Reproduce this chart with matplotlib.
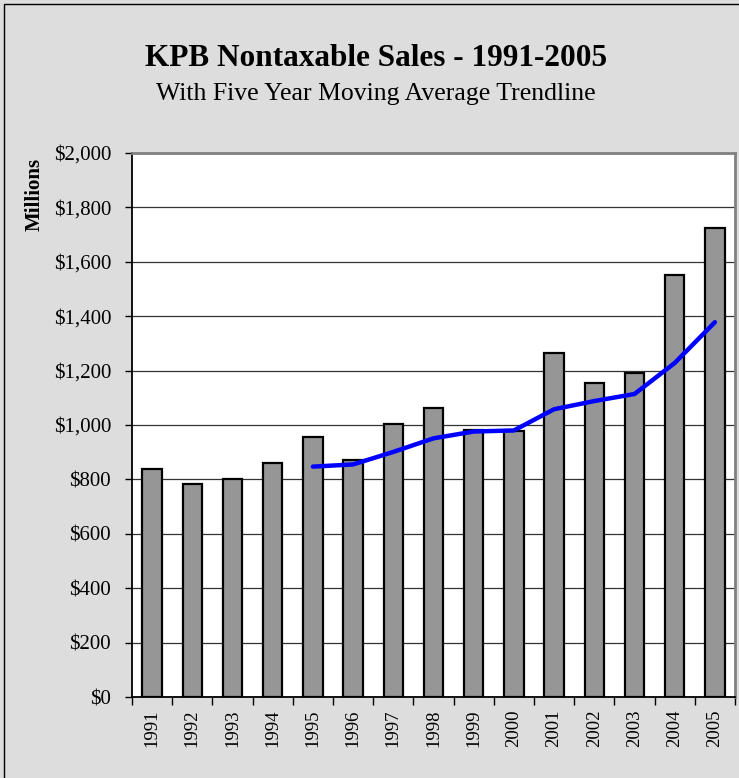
import matplotlib
matplotlib.use("Agg")
import matplotlib.pyplot as plt
from matplotlib.patches import Rectangle
from matplotlib.ticker import FuncFormatter

years = ["1991", "1992", "1993", "1994", "1995", "1996", "1997", "1998",
         "1999", "2000", "2001", "2002", "2003", "2004", "2005"]
sales = [838, 782, 801, 859, 957, 872, 1005, 1064, 981, 979, 1264, 1156, 1190, 1552, 1726]
ma_years = years[4:]
ma_values = [847, 855, 901, 951, 976, 980, 1058, 1088, 1114, 1228, 1378]

title = "KPB Nontaxable Sales - 1991-2005"
subtitle = "With Five Year Moving Average Trendline"
ylabel = "Millions"

plt.rcParams['font.family'] = ['Liberation Serif', 'DejaVu Serif']

W, H = 739, 778
fig = plt.figure(figsize=(W / 100, H / 100), dpi=100)
fig.patch.set_facecolor('#DDDDDD')
fig.patches.append(Rectangle((4 / W, -0.1), 1.2, (H - 4) / H + 0.1,
                             transform=fig.transFigure, fill=False,
                             edgecolor='black', linewidth=1.0))

ax = fig.add_axes([132 / W, (H - 697) / H, (735 - 132) / W, (697 - 153) / H])
ax.set_facecolor('white')

x = list(range(len(years)))
ax.bar(x, sales, width=0.48, color='#969696', edgecolor='black', linewidth=1.6, zorder=3)
ma_x = [years.index(y) for y in ma_years]
ax.plot(ma_x, ma_values, color='#0000FF', linewidth=3.2, solid_capstyle='round', zorder=4)

ax.set_xlim(-0.5, len(years) - 0.5)
ax.set_ylim(0, 2000)
ax.set_yticks(range(0, 2001, 200))
ax.yaxis.set_major_formatter(FuncFormatter(lambda v, p: "${:,.0f}".format(v)))
ax.grid(axis='y', color='#333333', linewidth=0.9, zorder=1)
ax.set_axisbelow(True)

ax.set_xticks([i - 0.5 for i in range(len(years) + 1)])
ax.set_xticklabels([])
ax.set_xticks(x, minor=True)
ax.set_xticklabels(years, minor=True, rotation=90, fontsize=13.5)
ax.tick_params(axis='x', which='minor', length=0, pad=9)
ax.tick_params(axis='x', which='major', length=6, width=1, direction='out', color='black')
ax.tick_params(axis='y', length=5, width=1, direction='out', labelsize=15, pad=10)

for s in ['top', 'right']:
    ax.spines[s].set_color('#808080')
    ax.spines[s].set_linewidth(2)
for s in ['left', 'bottom']:
    ax.spines[s].set_color('black')
    ax.spines[s].set_linewidth(1.3)

fig.text(376 / W, 1 - 58 / H, title, ha='center', va='center', fontsize=22.5, fontweight='bold')
fig.text(376 / W, 1 - 94 / H, subtitle, ha='center', va='center', fontsize=18.5)
fig.text(35 / W, 1 - 194 / H, ylabel, ha='center', va='center', fontsize=15,
         fontweight='bold', rotation=90)

fig.savefig("out.png", dpi=100, facecolor=fig.get_facecolor())
